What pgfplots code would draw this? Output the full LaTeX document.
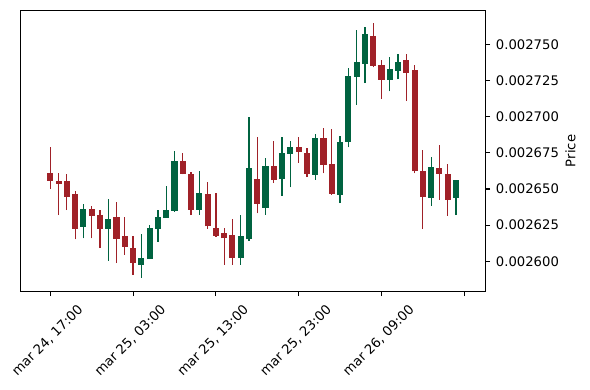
\documentclass[border=0pt]{standalone}
\usepackage{fontspec}
\setmainfont{DejaVu Sans}
\usepackage{pgfplots}
\usepackage{pgfplotstable}
\pgfplotsset{compat=1.18}
\definecolor{cRed}{HTML}{A02128}
\definecolor{cGreen}{HTML}{006340}

% down (red) candles: x open high low close
\pgfplotstableread{
x o h l c
0 0.0026611 0.0026789 0.0026499 0.0026558
1 0.0026556 0.0026609 0.0026319 0.0026537
2 0.0026556 0.0026605 0.0026353 0.0026447
3 0.0026466 0.0026489 0.0026152 0.0026226
5 0.0026362 0.0026381 0.0026159 0.0026316
6 0.0026321 0.0026353 0.0026090 0.0026226
8 0.0026307 0.0026411 0.0025986 0.0026157
9 0.0026175 0.0026305 0.0026044 0.0026101
10 0.0026094 0.0026177 0.0025905 0.0025990
16 0.0026695 0.0026748 0.0026602 0.0026607
17 0.0026605 0.0026620 0.0026319 0.0026357
19 0.0026468 0.0026551 0.0026226 0.0026242
20 0.0026231 0.0026471 0.0026170 0.0026177
21 0.0026196 0.0026229 0.0025974 0.0026159
22 0.0026182 0.0026293 0.0025974 0.0026021
25 0.0026568 0.0026859 0.0026332 0.0026397
27 0.0026660 0.0026831 0.0026540 0.0026565
30 0.0026790 0.0026859 0.0026681 0.0026759
31 0.0026752 0.0026785 0.0026582 0.0026605
33 0.0026854 0.0026925 0.0026609 0.0026669
34 0.0026674 0.0026914 0.0026459 0.0026466
39 0.0027560 0.0027648 0.0027343 0.0027352
40 0.0027359 0.0027392 0.0027122 0.0027256
43 0.0027394 0.0027436 0.0027108 0.0027306
44 0.0027325 0.0027357 0.0026609 0.0026623
45 0.0026625 0.0026769 0.0026222 0.0026447
47 0.0026646 0.0026803 0.0026425 0.0026607
48 0.0026605 0.0026672 0.0026314 0.0026427
}\downdata

% up (green) candles: x open high low close
\pgfplotstableread{
x o h l c
4 0.0026240 0.0026395 0.0026159 0.0026362
7 0.0026226 0.0026429 0.0026002 0.0026293
11 0.0025976 0.0026189 0.0025886 0.0026025
12 0.0026014 0.0026249 0.0026014 0.0026231
13 0.0026226 0.0026353 0.0026134 0.0026307
14 0.0026302 0.0026519 0.0026302 0.0026355
15 0.0026350 0.0026762 0.0026341 0.0026695
18 0.0026357 0.0026623 0.0026323 0.0026475
23 0.0026021 0.0026319 0.0025974 0.0026175
24 0.0026152 0.0026997 0.0026141 0.0026644
26 0.0026371 0.0026713 0.0026321 0.0026660
28 0.0026568 0.0026859 0.0026452 0.0026752
29 0.0026745 0.0026835 0.0026512 0.0026789
32 0.0026600 0.0026882 0.0026563 0.0026854
35 0.0026459 0.0026870 0.0026402 0.0026826
36 0.0026828 0.0027341 0.0026789 0.0027283
37 0.0027278 0.0027602 0.0027082 0.0027380
38 0.0027368 0.0027625 0.0027233 0.0027574
41 0.0027256 0.0027413 0.0027177 0.0027332
42 0.0027318 0.0027436 0.0027260 0.0027380
46 0.0026440 0.0026722 0.0026383 0.0026655
49 0.0026440 0.0026565 0.0026319 0.0026563
}\updata

\begin{document}
\begin{tikzpicture}
\path[use as bounding box] (-14.9pt,-71.06pt) rectangle (409.9pt,209.7pt);
\begin{axis}[
  at={(0pt,0pt)}, anchor=south west,
  scale only axis, width=334.5pt, height=202pt,
  xmin=-3.575, xmax=52.54, ymin=0.0025792, ymax=0.0027735,
  axis line style={line width=0.8pt},
  every tick/.style={black, line width=0.8pt},
  major tick length=3.5pt,
  tick align=outside,
  xtick pos=bottom, ytick pos=right,
  yticklabel pos=right,
  xtick={0,10,20,30,40,50},
  xticklabels={{mar 24, 17:00},{mar 25, 03:00},{mar 25, 13:00},{mar 25, 23:00},{mar 26, 09:00},{}},
  ytick={0.0026,0.002625,0.00265,0.002675,0.0027,0.002725,0.00275},
  yticklabels={0.002600,0.002625,0.002650,0.002675,0.002700,0.002725,0.002750},
  scaled y ticks=false,
  tick label style={font=\fontsize{9.5}{11}\selectfont},
  xticklabel style={xshift=19pt, yshift=-3.6pt, rotate=45, anchor=north east, inner sep=1pt},
  yticklabel style={inner sep=1pt, xshift=3pt},
  ylabel={Price},
  ylabel style={font=\fontsize{9.5}{11}\selectfont},
  clip=false,
]
% wicks
\addplot[draw=none, mark=none, forget plot,
  error bars/.cd, y dir=plus, y explicit, error mark=none,
  error bar style={draw=cRed, solid, line width=0.9pt}]
  table[x=x, y=l, y error expr=\thisrow{h}-\thisrow{l}] {\downdata};
\addplot[draw=none, mark=none, forget plot,
  error bars/.cd, y dir=plus, y explicit, error mark=none,
  error bar style={draw=cGreen, solid, line width=0.9pt}]
  table[x=x, y=l, y error expr=\thisrow{h}-\thisrow{l}] {\updata};
% bodies
\addplot[draw=none, mark=none, forget plot,
  error bars/.cd, y dir=plus, y explicit, error mark=none,
  error bar style={draw=cRed, solid, line width=4.4pt}]
  table[x=x, y=c, y error expr=\thisrow{o}-\thisrow{c}] {\downdata};
\addplot[draw=none, mark=none, forget plot,
  error bars/.cd, y dir=plus, y explicit, error mark=none,
  error bar style={draw=cGreen, solid, line width=4.4pt}]
  table[x=x, y=o, y error expr=\thisrow{c}-\thisrow{o}] {\updata};
\end{axis}
\end{tikzpicture}
\end{document}
